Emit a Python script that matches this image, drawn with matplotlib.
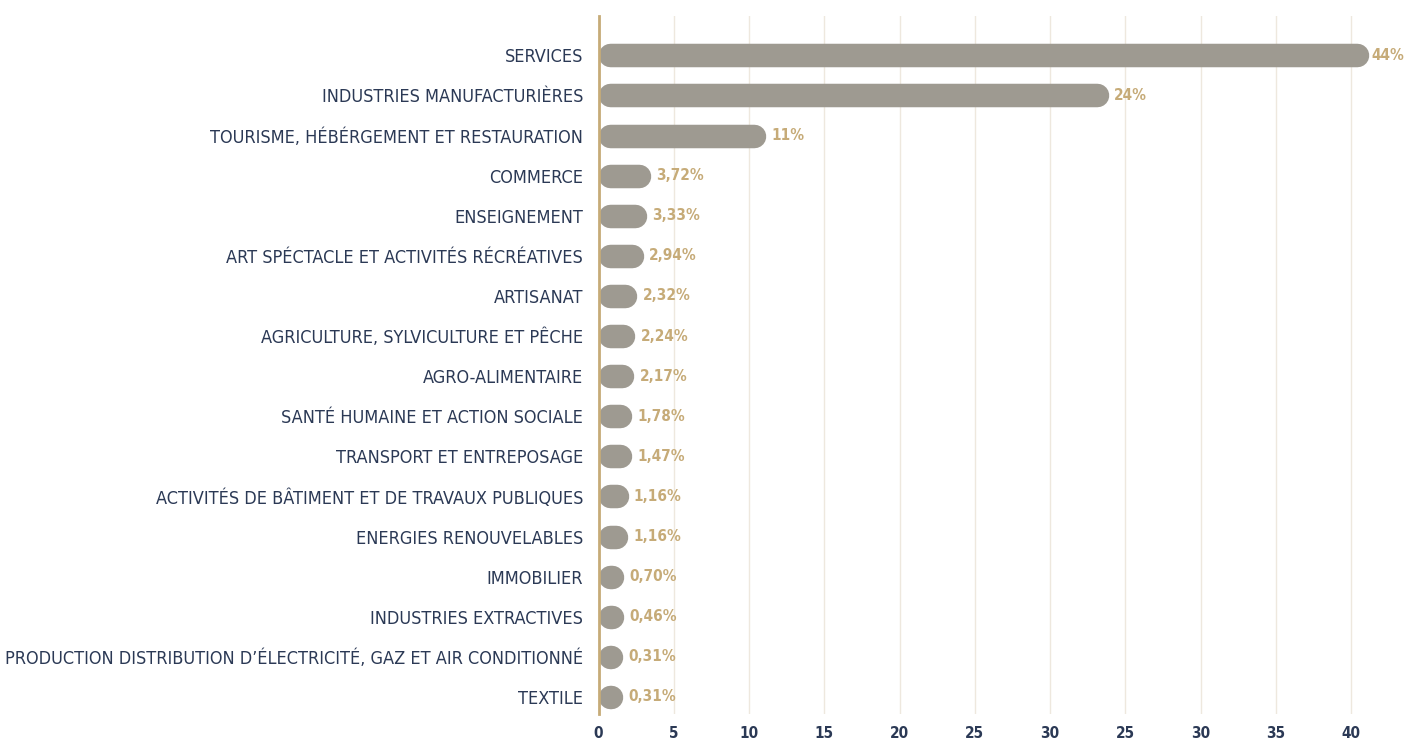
import matplotlib
matplotlib.use("Agg")
import matplotlib.pyplot as plt
from matplotlib import font_manager

# sectors, top to bottom
categories = [
    "SERVICES",
    "INDUSTRIES MANUFACTURIÈRES",
    "TOURISME, HÉBÉRGEMENT ET RESTAURATION",
    "COMMERCE",
    "ENSEIGNEMENT",
    "ART SPÉCTACLE ET ACTIVITÉS RÉCRÉATIVES",
    "ARTISANAT",
    "AGRICULTURE, SYLVICULTURE ET PÊCHE",
    "AGRO-ALIMENTAIRE",
    "SANTÉ HUMAINE ET ACTION SOCIALE",
    "TRANSPORT ET ENTREPOSAGE",
    "ACTIVITÉS DE BÂTIMENT ET DE TRAVAUX PUBLIQUES",
    "ENERGIES RENOUVELABLES",
    "IMMOBILIER",
    "INDUSTRIES EXTRACTIVES",
    "PRODUCTION DISTRIBUTION D’ÉLECTRICITÉ, GAZ ET AIR CONDITIONNÉ",
    "TEXTILE",
]
# bar lengths as drawn on the axis
bar_lengths = [51.2, 33.9, 11.1, 3.47, 3.20, 2.98, 2.56, 2.43, 2.36,
               2.21, 2.21, 1.98, 1.94, 1.65, 1.65, 1.63, 1.63]
value_labels = ["44%", "24%", "11%", "3,72%", "3,33%", "2,94%", "2,32%",
                "2,24%", "2,17%", "1,78%", "1,47%", "1,16%", "1,16%",
                "0,70%", "0,46%", "0,31%", "0,31%"]
tick_values = [0, 5, 10, 15, 20, 25, 30, 35, 40, 45, 50]
tick_labels = ["0", "5", "10", "15", "20", "25", "30", "25", "30", "35", "40"]

BAR = "#9e9a91"
GOLD = "#c6ab78"
NAVY = "#2b3955"
GRID = "#eee8de"

# pick a condensed face if one is installed
family = "Roboto"
stretch = "normal"
for f in font_manager.fontManager.ttflist:
    if f.name == "DejaVu Sans" and "condensed" in str(f.stretch):
        family, stretch = "DejaVu Sans", "condensed"
        break

W, H = 1406, 740
fig = plt.figure(figsize=(W / 100, H / 100), dpi=100)
x0_px, top_px, bot_px = 598.5, 16, 714
ax = fig.add_axes([x0_px / W, (H - bot_px) / H, (W - x0_px) / W, (bot_px - top_px) / H])

px_per_unit = 15.05
ax.set_xlim(0, (W - x0_px) / px_per_unit)
row_px = 40.1
ax.set_ylim(16 + (bot_px - 697) / row_px, -(55.3 - top_px) / row_px)

bar_h_px = 23.5
r = bar_h_px / 2 / px_per_unit
for i, (length, lab) in enumerate(zip(bar_lengths, value_labels)):
    start = r
    end = max(length - r, r + 0.001)
    ax.plot([start, end], [i, i], color=BAR, lw=bar_h_px * 0.72,
            solid_capstyle="round", zorder=2)
    gap = 1.5 if i == 0 else 4
    ax.annotate(lab, (max(length, 2 * r), i), xytext=(gap, 0), textcoords="offset points",
                ha="left", va="center", color=GOLD, fontsize=11, fontweight="bold",
                family=family, stretch=stretch, annotation_clip=False)

ax.set_yticks(range(len(categories)))
ax.set_yticklabels(categories, family=family, stretch=stretch, fontsize=13, color=NAVY)
ax.set_xticks(tick_values)
ax.set_xticklabels(tick_labels, family=family, stretch=stretch, fontsize=11,
                   fontweight="bold", color=NAVY)
ax.tick_params(axis="both", length=0)
ax.tick_params(axis="y", pad=11)
ax.tick_params(axis="x", pad=9)

ax.grid(axis="x", color=GRID, lw=1, zorder=0)
ax.set_axisbelow(True)
for s in ["top", "right", "bottom"]:
    ax.spines[s].set_visible(False)
ax.spines["left"].set_color(GOLD)
ax.spines["left"].set_linewidth(2)
ax.spines["left"].set_zorder(3)

fig.savefig("out.png", dpi=100)
